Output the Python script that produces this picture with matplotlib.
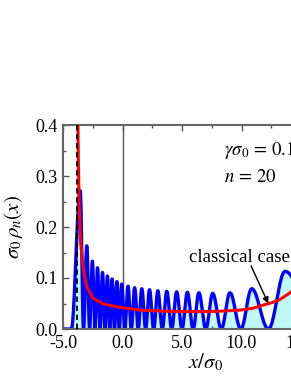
import numpy as np
import matplotlib
matplotlib.use("Agg")
import matplotlib.pyplot as plt
from matplotlib.ticker import MultipleLocator

plt.rcParams['font.family'] = ['Liberation Serif', 'DejaVu Serif']
plt.rcParams['mathtext.fontset'] = 'stix'

# ---- data ----
# quantum density: lobe peak positions and heights
peaks_x = [-3.55, -3.00, -2.53, -2.10, -1.68, -1.27, -0.87, -0.47, -0.07,
           0.46, 1.02, 1.62, 2.27, 2.97, 3.72, 4.55, 5.45, 6.42, 7.58,
           9.03, 10.86, 13.66]
peaks_y = [0.271, 0.163, 0.133, 0.120, 0.111, 0.104, 0.098, 0.093, 0.088,
           0.084, 0.081, 0.079, 0.077, 0.075, 0.074, 0.073, 0.072, 0.071,
           0.070, 0.071, 0.079, 0.113]
tail_start = -4.30   # where density starts rising on the left
tail_end = 16.5      # where last lobe vanishes on the right

# classical density
cl_x = [-3.745, -3.73, -3.71, -3.67, -3.63, -3.51, -3.29, -3.01, -2.45, -1.61,
        -0.21, 1.47, 3.5, 5.67, 7.8, 9.87, 11.0, 11.83, 12.6, 13.24, 14.08, 14.6]
cl_y = [0.42, 0.37, 0.33, 0.28, 0.233, 0.168, 0.116, 0.083, 0.060, 0.049,
        0.0425, 0.037, 0.035, 0.034, 0.0345, 0.037, 0.041, 0.047, 0.052, 0.058,
        0.071, 0.080]

turning_point = -3.85
x_ticks = [-5.0, 0.0, 5.0, 10.0, 15.0]
y_ticks = [0.0, 0.1, 0.2, 0.3, 0.4]

# ---- build lobe-shaped curve from peaks ----
px = np.array(peaks_x)
py = np.array(peaks_y)
zeros = np.concatenate([[tail_start], (px[:-1] + px[1:]) / 2, [tail_end]])
xs, ys = [np.array([-5.0, tail_start])], [np.array([0.0, 0.0])]
for i in range(len(px)):
    zl, p, zr, h = zeros[i], px[i], zeros[i + 1], py[i]
    t1 = np.linspace(0, 1, 40)
    xs.append(zl + (p - zl) * t1)
    ys.append(h * np.sin(np.pi / 2 * t1) ** 2)
    t2 = np.linspace(0, 1, 40)[1:]
    xs.append(p + (zr - p) * t2)
    ys.append(h * np.cos(np.pi / 2 * t2) ** 2)
bx = np.concatenate(xs)
by = np.concatenate(ys)

fig = plt.figure(figsize=(2.91, 3.76), dpi=100)
ax = fig.add_axes([63 / 291, 47 / 376, 285.6 / 291, 204 / 376])

ax.fill_between(bx, 0, by, color='#c0f8f8', lw=0, zorder=1)
ax.plot(bx, by, color='#0000ff', lw=2.4, zorder=2)
ax.axvline(0.0, color='#555555', lw=1.0, zorder=1.5)
ax.plot(cl_x, cl_y, color='#ff0000', lw=2.2, zorder=3, clip_on=True)
ax.plot([turning_point, turning_point], [0, 0.4], color='k', lw=1.3,
        ls=(0, (3, 2)), zorder=4)

ax.set_xlim(-5, 19)
ax.set_ylim(0, 0.4)
ax.set_xticks(x_ticks)
ax.set_xticklabels([f"{v:.1f}" for v in x_ticks])
ax.set_yticks(y_ticks)
ax.set_yticklabels([f"{v:.1f}" for v in y_ticks])
ax.xaxis.set_minor_locator(MultipleLocator(2.5))
ax.yaxis.set_minor_locator(MultipleLocator(0.05))
ax.tick_params(which='both', direction='in', top=True, right=True,
               labelsize=13, color='#555555')
ax.tick_params(axis='x', pad=4)
ax.tick_params(axis='y', pad=4)
ax.tick_params(which='major', length=4, width=1)
ax.tick_params(which='minor', length=2, width=1)
for s in ax.spines.values():
    s.set_color('#666666')
    s.set_linewidth(1.5)

ax.set_xlabel(r'$x/\sigma_0$', fontsize=15, labelpad=0)
ax.set_ylabel(r'$\sigma_0\,\rho_n(x)$', fontsize=15, labelpad=7)

ax.text(8.55, 0.351, r'$\gamma\sigma_0\,=\,0.1$', fontsize=13.5, va='center', ha='left')
ax.text(8.55, 0.298, r'$n\,=\,20$', fontsize=13.5, va='center', ha='left')
ax.text(5.6, 0.141, 'classical case', fontsize=13.5, va='center', ha='left')
ax.annotate('', xy=(12.25, 0.050), xytext=(10.8, 0.124),
            arrowprops=dict(arrowstyle='-|>', color='k', lw=1.0,
                            mutation_scale=9, shrinkA=0, shrinkB=0))

fig.savefig('out.png', dpi=100)
